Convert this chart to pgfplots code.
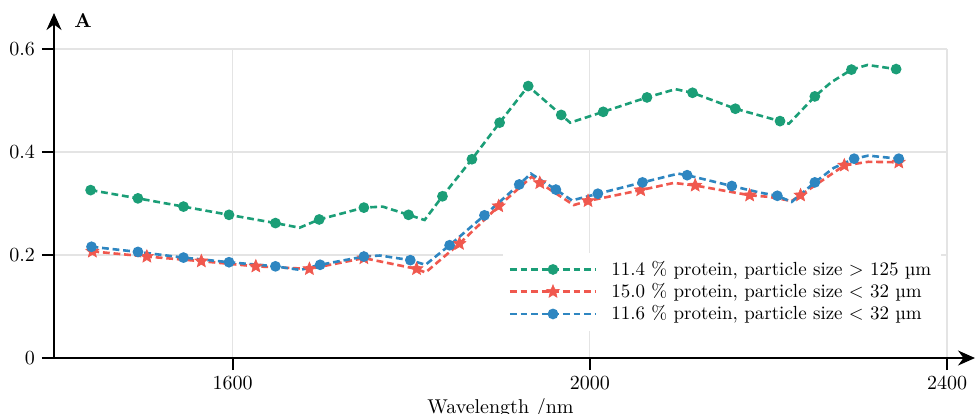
\documentclass[border=0pt]{standalone}
\usepackage{pgfplots}
\pgfplotsset{compat=1.18}
\usetikzlibrary{arrows.meta}
\definecolor{cgreen}{RGB}{27,158,119}
\definecolor{cred}{RGB}{240,88,78}
\definecolor{cblue}{RGB}{46,134,193}
\definecolor{cgrid}{RGB}{228,228,228}
\pgfdeclareplotmark{fstar}{%
  \pgfpathmoveto{\pgfqpointpolar{90}{\pgfplotmarksize}}%
  \pgfpathlineto{\pgfqpointpolar{126}{0.45\pgfplotmarksize}}%
  \pgfpathlineto{\pgfqpointpolar{162}{\pgfplotmarksize}}%
  \pgfpathlineto{\pgfqpointpolar{198}{0.45\pgfplotmarksize}}%
  \pgfpathlineto{\pgfqpointpolar{234}{\pgfplotmarksize}}%
  \pgfpathlineto{\pgfqpointpolar{270}{0.45\pgfplotmarksize}}%
  \pgfpathlineto{\pgfqpointpolar{306}{\pgfplotmarksize}}%
  \pgfpathlineto{\pgfqpointpolar{342}{0.45\pgfplotmarksize}}%
  \pgfpathlineto{\pgfqpointpolar{18}{\pgfplotmarksize}}%
  \pgfpathlineto{\pgfqpointpolar{54}{0.45\pgfplotmarksize}}%
  \pgfpathclose
  \pgfusepathqfillstroke}
\begin{document}
\begin{tikzpicture}
\begin{axis}[
  scale only axis,
  width=446.5pt, height=154.5pt,
  xmin=1400, xmax=2400, ymin=0, ymax=0.6,
  axis lines=left,
  axis line style={line width=0.9pt, -{Stealth[length=8.5pt,width=7.5pt]}},
  x axis line style={shorten >=-14pt},
  y axis line style={shorten >=-18pt},
  xtick={1600,2000,2400}, ytick={0,0.2,0.4,0.6},
  /pgf/number format/1000 sep={},
  tick align=outside, major tick length=6pt,
  tick style={line width=0.9pt, black},
  grid=major, grid style={cgrid, line width=0.6pt},
  xlabel={Wavelength /nm},
  xlabel style={yshift=2.5pt},
  ylabel={A},
  ylabel style={font=\normalsize\bfseries, rotate=-90, at={(axis description cs:0,1)}, anchor=base west, inner sep=0pt, xshift=10pt, yshift=11pt},
  legend style={at={(axis cs:1902,0.205)}, anchor=north west, draw=none, fill=white, font=\fontsize{9.5}{11.4}\selectfont, row sep=-1.5pt},
  legend cell align=left,
  legend image code/.code={\draw[mark indices={2}] plot coordinates {(0pt,0pt) (21.5pt,0pt) (43pt,0pt)}; \path (48pt,0pt);},
  every axis plot/.append style={line width=1.3pt, dash pattern=on 3.4pt off 1.9pt},
]
\addplot[cgreen, mark=*, mark size=2pt, mark options={solid},
  mark indices={1,2,3,4,5,7,8,10,12,13,14,15,16,18,19,21,22,23,25,27,29}]
coordinates {
(1441,0.326) (1494,0.310) (1545,0.294) (1596,0.278) (1648,0.262) (1675,0.253)
(1697,0.269) (1747,0.292) (1768,0.294) (1797,0.278) (1815,0.268) (1835,0.314)
(1868,0.386) (1899,0.457) (1931,0.528) (1968,0.472) (1978,0.457) (2015,0.478)
(2064,0.506) (2096,0.522) (2115,0.515) (2163,0.484) (2213,0.460) (2223,0.455)
(2252,0.508) (2270,0.535) (2293,0.560) (2311,0.569) (2343,0.561)
};
\addlegendentry{11.4 \% protein, particle size > 125 µm}
\addplot[cred, mark=fstar, mark size=3.4pt, mark options={solid, fill=cred, line width=0.3pt},
  mark indices={1,2,3,4,5,6,7,9,10,12,14,15,17,18,21,22,24}]
coordinates {
(1443,0.207) (1504,0.197) (1565,0.188) (1626,0.178) (1686,0.173) (1747,0.194)
(1806,0.173) (1816,0.166) (1854,0.222) (1898,0.295) (1935,0.352) (1944,0.340)
(1982,0.297) (1998,0.305) (2057,0.326) (2094,0.340) (2118,0.335) (2179,0.316)
(2200,0.313) (2226,0.305) (2236,0.316) (2285,0.374) (2312,0.381) (2346,0.380)
};
\addlegendentry{15.0 \% protein, particle size < 32 µm}
\addplot[cblue, mark=*, mark size=2pt, mark options={solid},
  mark indices={1,2,3,4,5,7,8,10,12,13,14,16,18,19,21,22,24,26,28,30}]
coordinates {
(1442,0.216) (1494,0.206) (1545,0.195) (1596,0.186) (1648,0.178) (1676,0.171)
(1698,0.181) (1747,0.197) (1765,0.199) (1799,0.190) (1816,0.181) (1843,0.219)
(1882,0.277) (1921,0.337) (1934,0.358) (1962,0.327) (1980,0.306) (2009,0.319)
(2059,0.341) (2099,0.358) (2109,0.355) (2159,0.334) (2191,0.321) (2210,0.315)
(2226,0.303) (2252,0.341) (2273,0.369) (2296,0.387) (2312,0.393) (2346,0.387)
};
\addlegendentry{11.6 \% protein, particle size < 32 µm}
\coordinate (O) at (axis cs:1400,0);
\end{axis}
\pgfresetboundingbox
\path (O) ++(-27pt,-27.5pt) rectangle ++(488.5pt,206.5pt);
\end{tikzpicture}
\end{document}
